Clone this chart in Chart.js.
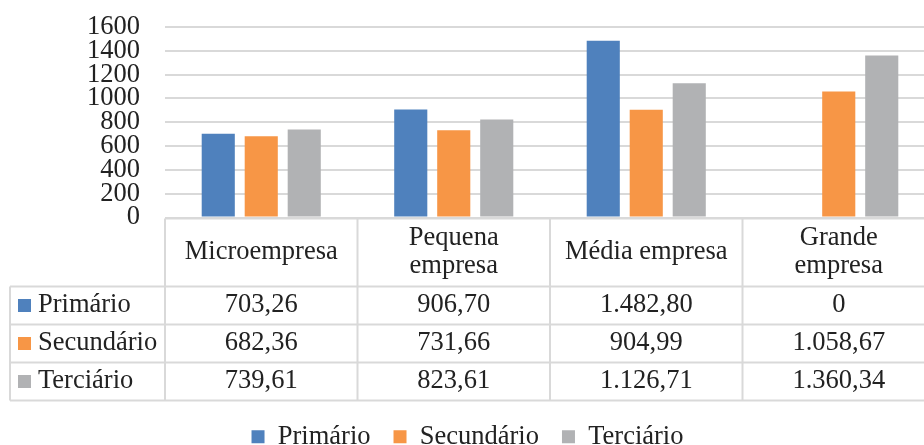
<!DOCTYPE html>
<html>
<head>
<meta charset="utf-8">
<script src="https://cdn.jsdelivr.net/npm/chart.js@4.4.0/dist/chart.umd.min.js"></script>
<style>
html, body { margin: 0; padding: 0; overflow: hidden; background: #fff; }
#barChart { display: block; margin-top: -14px; }
</style>
</head>
<body>
<canvas id="barChart" width="936" height="474"></canvas>
<script>
// data
const categories = [["Microempresa"], ["Pequena", "empresa"], ["Média empresa"], ["Grande", "empresa"]];
const seriesNames = ["Primário", "Secundário", "Terciário"];
const primario = [703.26, 906.70, 1482.80, 0];
const secundario = [682.36, 731.66, 904.99, 1058.67];
const terciario = [739.61, 823.61, 1126.71, 1360.34];
const yMax = 1600;
const yStep = 200;

const colors = ["#4f81bd", "#f79646", "#b1b2b4"];
const textColor = "#222";
const lineColor = "#d9d9d9";
const fontFamily = "'Liberation Serif', 'Times New Roman', serif";
const fontSize = 26.5;

Chart.defaults.font.family = fontFamily;
Chart.defaults.font.size = fontSize;
Chart.defaults.color = textColor;

function fmt(v) {
    if (v === 0) return "0";
    const parts = v.toFixed(2).split(".");
    return parts[0].replace(/\B(?=(\d{3})+(?!\d))/g, ".") + "," + parts[1];
}

const seriesValues = [primario, secundario, terciario];

// data table drawn under the plot, aligned on the x scale
const dataTable = {
    id: "dataTable",
    afterDraw(chart) {
        const ctx = chart.ctx;
        const x = chart.scales.x;
        const top = chart.chartArea.bottom + 1;
        const n = categories.length;
        const colW = x.width / n;
        const headH = 68;
        const rowH = 38;
        const leftEdge = 10;
        const bottom = top + headH + rowH * seriesNames.length;

        ctx.save();
        ctx.strokeStyle = lineColor;
        ctx.lineWidth = 2;
        ctx.beginPath();
        ctx.moveTo(x.left, top);
        ctx.lineTo(x.right, top);
        for (let r = 0; r <= seriesNames.length; r++) {
            const y = top + headH + r * rowH;
            ctx.moveTo(leftEdge, y);
            ctx.lineTo(x.right, y);
        }
        for (let i = 0; i <= n; i++) {
            const xx = x.left + i * colW;
            ctx.moveTo(xx, top);
            ctx.lineTo(xx, bottom);
        }
        ctx.moveTo(leftEdge, top + headH);
        ctx.lineTo(leftEdge, bottom);
        ctx.stroke();

        ctx.font = fontSize + "px " + fontFamily;
        ctx.fillStyle = textColor;
        ctx.textAlign = "center";
        ctx.textBaseline = "middle";
        const lineH = 28;
        categories.forEach((lines, i) => {
            const cx = x.getPixelForValue(i);
            const cy = top + headH / 2;
            lines.forEach((line, k) => {
                ctx.fillText(line, cx, cy + (k - (lines.length - 1) / 2) * lineH);
            });
        });

        seriesNames.forEach((name, r) => {
            const cy = top + headH + r * rowH + rowH / 2;
            ctx.fillStyle = colors[r];
            ctx.fillRect(18, cy - 6.5, 13, 13);
            ctx.fillStyle = textColor;
            ctx.textAlign = "left";
            ctx.fillText(name, 38, cy);
            ctx.textAlign = "center";
            seriesValues[r].forEach((v, i) => {
                ctx.fillText(fmt(v), x.getPixelForValue(i), cy);
            });
        });
        ctx.restore();
    }
};

const ctx = document.getElementById("barChart");
const barChart = new Chart(ctx, {
    type: "bar",
    data: {
        labels: categories,
        datasets: seriesNames.map((name, i) => ({
            label: name,
            data: seriesValues[i],
            backgroundColor: colors[i],
            categoryPercentage: 0.67,
            barPercentage: 0.77
        }))
    },
    options: {
        responsive: false,
        animation: false,
        layout: {
            padding: { top: 12, left: 0, right: 1, bottom: 0 }
        },
        plugins: {
            legend: {
                position: "bottom",
                labels: {
                    boxWidth: 13,
                    boxHeight: 13,
                    padding: 23,
                    font: { size: fontSize, family: fontFamily }
                }
            },
            tooltip: { enabled: false }
        },
        scales: {
            x: {
                grid: { display: false },
                border: { display: false },
                ticks: { display: false },
                afterFit(scale) { scale.height = 183; }
            },
            y: {
                min: 0,
                max: yMax,
                border: { display: false },
                grid: { color: lineColor, lineWidth: 2, drawTicks: false },
                ticks: {
                    stepSize: yStep,
                    autoSkip: false,
                    padding: 25,
                    callback: v => String(v)
                },
                afterFit(scale) { scale.width = 165; }
            }
        }
    },
    plugins: [dataTable]
});
</script>
</body>
</html>
